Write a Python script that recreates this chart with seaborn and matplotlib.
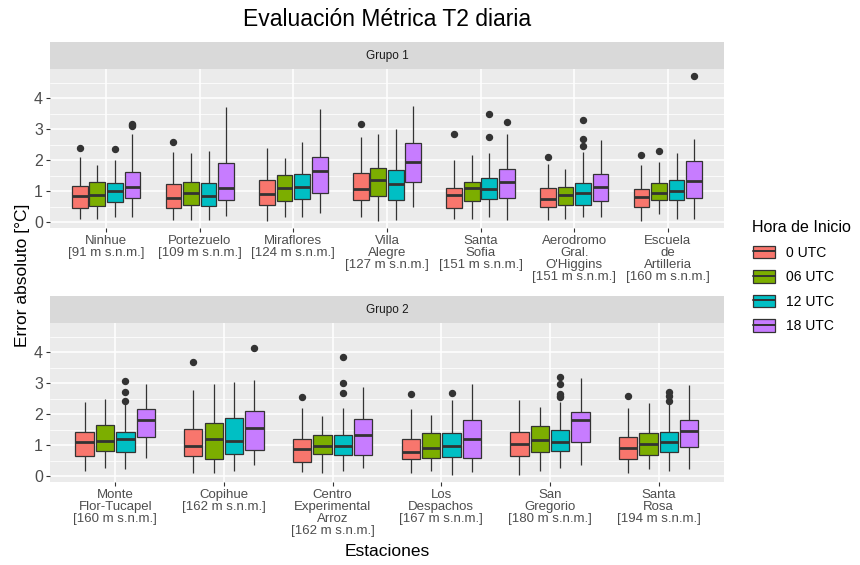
import pandas as pd
import matplotlib
matplotlib.use("Agg")
import matplotlib.pyplot as plt
from matplotlib.patches import Patch
from matplotlib.lines import Line2D
from matplotlib.legend_handler import HandlerTuple
import seaborn as sns

horas = ["0 UTC", "06 UTC", "12 UTC", "18 UTC"]
colores = ["#F8766D", "#7CAE00", "#00BFC4", "#C77CFF"]

# ---- Grupo 1: resumen de cada caja (filas = estacion, columnas = hora de inicio)
estaciones_g1 = ["Ninhue\n[91 m s.n.m.]", "Portezuelo\n[109 m s.n.m.]",
                 "Miraflores\n[124 m s.n.m.]", "Villa\nAlegre\n[127 m s.n.m.]",
                 "Santa\nSofia\n[151 m s.n.m.]",
                 "Aerodromo\nGral.\nO'Higgins\n[151 m s.n.m.]",
                 "Escuela\nde\nArtilleria\n[160 m s.n.m.]"]
g1_min = [[0.12, 0.12, 0.16, 0.16], [0.09, 0.09, 0.09, 0.20], [0.05, 0.19, 0.16, 0.30],
          [0.16, 0.05, 0.09, 0.49], [0.12, 0.12, 0.19, 0.09], [0.09, 0.12, 0.19, 0.19],
          [0.05, 0.27, 0.12, 0.12]]
g1_q1 = [[0.47, 0.54, 0.65, 0.80], [0.47, 0.57, 0.54, 0.72], [0.57, 0.69, 0.76, 0.94],
         [0.73, 0.84, 0.73, 1.31], [0.47, 0.69, 0.76, 0.80], [0.51, 0.57, 0.57, 0.69],
         [0.49, 0.72, 0.72, 0.80]]
g1_med = [[0.85, 0.87, 1.00, 1.14], [0.78, 0.96, 0.85, 1.11], [0.92, 1.11, 1.14, 1.67],
          [1.08, 1.38, 1.25, 1.95], [0.88, 1.11, 1.08, 1.29], [0.75, 0.88, 0.94, 1.14],
          [0.82, 0.96, 1.01, 1.33]]
g1_q3 = [[1.19, 1.30, 1.26, 1.64], [1.23, 1.30, 1.26, 1.93], [1.38, 1.52, 1.56, 2.11],
         [1.60, 1.77, 1.70, 2.55], [1.12, 1.30, 1.44, 1.71], [1.12, 1.15, 1.26, 1.56],
         [1.09, 1.26, 1.38, 1.97]]
g1_max = [[2.12, 1.86, 2.01, 2.86], [2.27, 2.23, 2.31, 3.72], [2.41, 2.09, 2.60, 3.66],
          [2.77, 2.85, 3.00, 3.76], [2.02, 2.18, 2.23, 2.85], [1.89, 1.72, 2.26, 2.66],
          [1.86, 1.94, 2.23, 2.70]]
g1_atipicos = [[[2.40], [], [2.38], [3.10, 3.15, 3.18]],
               [[2.59], [], [], []],
               [[], [], [], []],
               [[3.17], [], [], []],
               [[2.84], [], [2.76, 3.49], [3.24]],
               [[2.11], [], [2.47, 2.69, 3.31], []],
               [[2.17], [2.29], [], [4.71]]]

# ---- Grupo 2
estaciones_g2 = ["Monte\nFlor-Tucapel\n[160 m s.n.m.]", "Copihue\n[162 m s.n.m.]",
                 "Centro\nExperimental\nArroz\n[162 m s.n.m.]",
                 "Los\nDespachos\n[167 m s.n.m.]", "San\nGregorio\n[180 m s.n.m.]",
                 "Santa\nRosa\n[194 m s.n.m.]"]
g2_min = [[0.17, 0.25, 0.22, 0.57], [0.09, 0.09, 0.17, 0.36], [0.13, 0.09, 0.17, 0.25],
          [0.09, 0.17, 0.05, 0.13], [0.05, 0.17, 0.25, 0.36], [0.09, 0.22, 0.17, 0.22]]
g2_q1 = [[0.66, 0.80, 0.78, 1.27], [0.66, 0.55, 0.73, 0.84], [0.47, 0.73, 0.69, 0.69],
         [0.55, 0.59, 0.63, 0.59], [0.66, 0.77, 0.81, 1.10], [0.55, 0.69, 0.77, 0.95]]
g2_med = [[1.11, 1.12, 1.20, 1.81], [0.97, 1.20, 1.14, 1.55], [0.87, 0.97, 0.97, 1.34],
          [0.78, 0.91, 0.97, 1.20], [1.04, 1.15, 1.09, 1.81], [0.90, 1.04, 1.09, 1.45]]
g2_q3 = [[1.43, 1.64, 1.42, 2.16], [1.53, 1.72, 1.87, 2.09], [1.21, 1.32, 1.32, 1.83],
         [1.21, 1.38, 1.38, 1.80], [1.42, 1.61, 1.50, 2.08], [1.27, 1.38, 1.42, 1.80]]
g2_max = [[2.39, 2.50, 2.33, 2.98], [2.79, 2.98, 3.05, 3.09], [2.20, 1.95, 2.20, 2.89],
          [2.18, 1.98, 2.46, 2.98], [2.46, 2.24, 2.39, 3.16], [2.20, 2.35, 2.35, 2.93]]
g2_atipicos = [[[], [], [2.43, 2.70, 3.07], []],
               [[3.67], [], [], [4.14]],
               [[2.56], [], [2.68, 3.00, 3.85], []],
               [[2.64], [], [2.69], []],
               [[], [], [2.55, 2.60, 2.65, 2.98, 3.20], []],
               [[2.60], [], [2.42, 2.57, 2.72], []]]


def muestras(est, lo, q1, med, q3, hi, atip):
    """Arma una muestra minima cuyos cuartiles, bigotes y atipicos
    coinciden con el resumen leido de cada caja"""
    filas = []
    for i, e in enumerate(est):
        for j, h in enumerate(horas):
            extra = atip[i][j]
            k = len(extra) + 1
            vals = [lo[i][j]] * k + [q1[i][j]] * k + [med[i][j]] * k \
                + [q3[i][j], hi[i][j]] + extra
            filas += [(e, h, v) for v in vals]
    return pd.DataFrame(filas, columns=["estacion", "hora", "error"])


sns.set_style("darkgrid", {"axes.facecolor": "#EBEBEB", "grid.color": "white"})
plt.rcParams['font.family'] = ['Liberation Sans', 'DejaVu Sans']
plt.rcParams['text.color'] = 'black'

fig = plt.figure(figsize=(8.6, 5.65), dpi=100)
ax1 = fig.add_axes([0.0581, 0.5965, 0.7837, 0.2808])
ax2 = fig.add_axes([0.0581, 0.1474, 0.7837, 0.2809])
s1 = fig.add_axes([0.0581, 0.8773, 0.7837, 0.0478])
s2 = fig.add_axes([0.0581, 0.4283, 0.7837, 0.0478])

grupos = [
    (ax1, s1, "Grupo 1", estaciones_g1,
     muestras(estaciones_g1, g1_min, g1_q1, g1_med, g1_q3, g1_max, g1_atipicos)),
    (ax2, s2, "Grupo 2", estaciones_g2,
     muestras(estaciones_g2, g2_min, g2_q1, g2_med, g2_q3, g2_max, g2_atipicos)),
]

for ax, strip, nombre, est, df in grupos:
    sns.boxplot(data=df, x="estacion", y="error", hue="hora", order=est,
                hue_order=horas, palette=colores, saturation=1, width=0.75, gap=0.1,
                linecolor="#333333", linewidth=0.9, fliersize=4.3,
                medianprops={"color": "#333333", "linewidth": 2.0},
                flierprops={"marker": "o", "markerfacecolor": "#333333",
                            "markeredgecolor": "#333333"},
                capprops={"visible": False}, legend=False, ax=ax)
    ax.set_xlim(-0.6, len(est) - 0.4)
    ax.set_ylim(-0.18, 4.94)
    ax.set_yticks([0, 1, 2, 3, 4])
    ax.set_yticks([0.5, 1.5, 2.5, 3.5, 4.5], minor=True)
    ax.grid(which="major", color="white", linewidth=1.1)
    ax.grid(which="minor", axis="y", color="white", linewidth=0.55)
    ax.set_axisbelow(True)
    ax.set_xlabel("")
    ax.set_ylabel("")
    for sp in ax.spines.values():
        sp.set_visible(False)
    ax.tick_params(which="major", bottom=True, left=True, length=3, width=0.8,
                   color="#333333", labelcolor="#4D4D4D", pad=2)
    ax.tick_params(which="minor", length=0)
    ax.tick_params(axis="y", labelsize=11.5)
    for lab in ax.get_xticklabels():
        lab.set_fontsize(9.5)
        lab.set_linespacing(1.02)

    strip.set_facecolor("#D9D9D9")
    strip.set_xticks([])
    strip.set_yticks([])
    strip.grid(False)
    for sp in strip.spines.values():
        sp.set_visible(False)
    strip.text(0.5, 0.5, nombre, ha="center", va="center", fontsize=8.5,
               color="#1A1A1A", transform=strip.transAxes)

fig.text(0.45, 1 - 20 / 565, "Evaluación Métrica T2 diaria", ha="center",
         va="center", fontsize=16.5, color="black")
fig.text(0.45, 1 - 552 / 565, "Estaciones", ha="center", va="center",
         fontsize=12.5, color="black")
fig.text(0.0256, 0.513, "Error absoluto [°C]", ha="center", va="center",
         rotation=90, fontsize=12.5, color="black")

handles = [(Patch(facecolor=c, edgecolor="#333333", linewidth=0.9),
            Line2D([0], [0], color="#333333", linewidth=1.4)) for c in colores]
fig.legend(handles, horas, handler_map={tuple: HandlerTuple(ndivide=1, pad=0)},
           loc="upper left", bbox_to_anchor=(740 / 860, 1 - 208 / 565), frameon=False,
           title="Hora de Inicio", fontsize=10, title_fontsize=11.5,
           handlelength=1.6, handleheight=1.0, labelspacing=0.75, alignment="left")

fig.savefig("out.png", dpi=100)
